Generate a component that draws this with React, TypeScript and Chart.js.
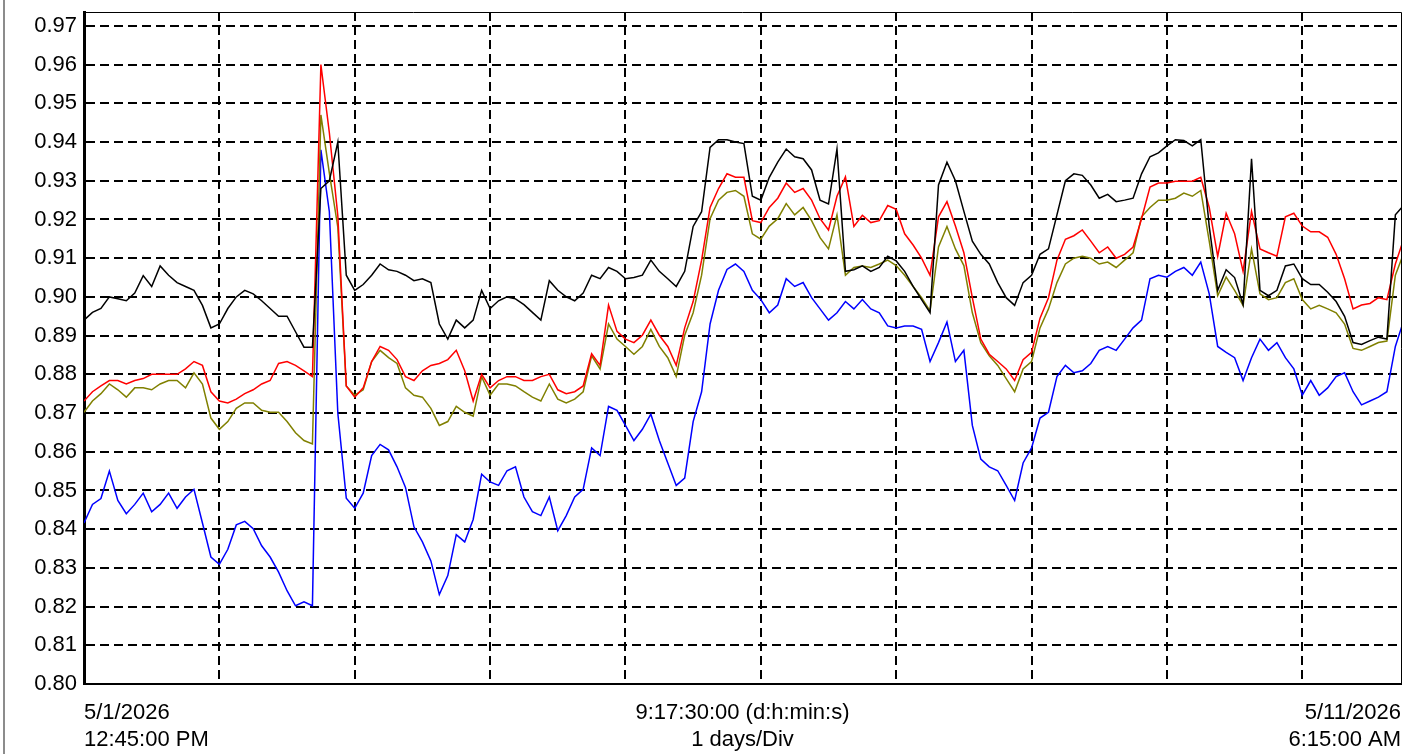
import React, { useEffect, useRef } from 'react';
import { Chart, registerables } from 'chart.js';

Chart.register(...registerables);

// Time axis: hours since 5/1/2026 12:45:00 PM, samples every 1.5 h
const STEP_HOURS = 1.5;
const X_MAX_HOURS = 233.5; // 9:17:30:00
const X_MID_HOURS = X_MAX_HOURS / 2;
const DAY_GRID_HOURS = [24, 48, 72, 96, 120, 144, 168, 192, 216];

const START_LABEL = ['5/1/2026', '12:45:00 PM'];
const MID_LABEL = ['9:17:30:00 (d:h:min:s)', '1 days/Div'];
const END_LABEL = ['5/11/2026', '6:15:00 AM'];

const Y_TICKS = [0.8, 0.81, 0.82, 0.83, 0.84, 0.85, 0.86, 0.87, 0.88, 0.89, 0.9, 0.91, 0.92, 0.93, 0.94, 0.95, 0.96, 0.97];

const BLACK = [
  0.894, 0.896, 0.897, 0.9, 0.8995, 0.899, 0.901, 0.9055, 0.9027, 0.908,
  0.9056, 0.9037, 0.9027, 0.9017, 0.8978, 0.892, 0.893, 0.897, 0.9, 0.9017,
  0.9008, 0.899, 0.897, 0.895, 0.895, 0.891, 0.887, 0.887, 0.928, 0.93,
  0.94, 0.9056, 0.9017, 0.9032, 0.9056, 0.9085, 0.907, 0.9066, 0.9056, 0.9042,
  0.9047, 0.9037, 0.893, 0.8891, 0.894, 0.892, 0.894, 0.9017, 0.897, 0.899,
  0.9, 0.8995, 0.898, 0.896, 0.894, 0.9042, 0.9017, 0.9, 0.899, 0.901,
  0.9056, 0.9047, 0.9076, 0.9066, 0.9047, 0.905, 0.9056, 0.9095, 0.9066, 0.9047,
  0.9027, 0.9066, 0.9182, 0.922, 0.9386, 0.9406, 0.9406, 0.94, 0.9396, 0.926,
  0.925, 0.9309, 0.9348, 0.9382, 0.9362, 0.9357, 0.9328, 0.925, 0.924, 0.9382,
  0.9066, 0.907, 0.908, 0.9066, 0.9076, 0.9105, 0.9093, 0.9066, 0.9027, 0.8993,
  0.8959, 0.9289, 0.9348, 0.93, 0.9221, 0.9144, 0.911, 0.9085, 0.9037, 0.8998,
  0.8978, 0.9037, 0.9056, 0.911, 0.9124, 0.9212, 0.93, 0.9318, 0.9314, 0.9289,
  0.9255, 0.9265, 0.9246, 0.925, 0.9255, 0.9318, 0.9362, 0.9372, 0.939, 0.9406,
  0.9404, 0.939, 0.9406, 0.9182, 0.9017, 0.907, 0.905, 0.898, 0.9357, 0.9017,
  0.9003, 0.9017, 0.908, 0.9085, 0.9047, 0.9032, 0.9032, 0.9012, 0.8988, 0.895,
  0.8882, 0.8877, 0.8887, 0.8896, 0.8891, 0.9212, 0.9237,
];

const RED = [
  0.8731, 0.8755, 0.877, 0.8784, 0.8784, 0.8775, 0.8784, 0.8789, 0.88, 0.88,
  0.88, 0.88, 0.8814, 0.8833, 0.8823, 0.8755, 0.8731, 0.8726, 0.8736, 0.875,
  0.876, 0.8775, 0.8784, 0.8828, 0.8833, 0.8823, 0.8809, 0.8794, 0.96, 0.9424,
  0.921, 0.877, 0.8741, 0.8765, 0.8833, 0.8872, 0.8862, 0.8838, 0.8794, 0.8784,
  0.8809, 0.8823, 0.8828, 0.8838, 0.8862, 0.8809, 0.8731, 0.88, 0.8765, 0.8784,
  0.8794, 0.8794, 0.8784, 0.8784, 0.8794, 0.88, 0.876, 0.875, 0.8755, 0.877,
  0.8853, 0.8823, 0.8979, 0.8911, 0.8891, 0.8882, 0.8901, 0.894, 0.8901, 0.8872,
  0.8823, 0.892, 0.8988, 0.9095, 0.9231, 0.928, 0.9318, 0.9309, 0.9309, 0.9197,
  0.9192, 0.9231, 0.9255, 0.9294, 0.927, 0.928, 0.925, 0.9202, 0.9173, 0.926,
  0.931, 0.9182, 0.9211, 0.9192, 0.9197, 0.9236, 0.9226, 0.9163, 0.9134, 0.91,
  0.9056, 0.9207, 0.9246, 0.9183, 0.9114, 0.8998, 0.8891, 0.8852, 0.8833, 0.8814,
  0.8784, 0.8838, 0.8857, 0.8945, 0.8998, 0.9095, 0.9149, 0.9158, 0.9173, 0.9144,
  0.9114, 0.9129, 0.91, 0.911, 0.9129, 0.9202, 0.9284, 0.9294, 0.9294, 0.9299,
  0.9299, 0.9299, 0.9309, 0.9231, 0.9105, 0.9216, 0.9163, 0.9066, 0.9221, 0.9124,
  0.9114, 0.9105, 0.9207, 0.9216, 0.9183, 0.9168, 0.9168, 0.9154, 0.911, 0.9047,
  0.8969, 0.8979, 0.8983, 0.8998, 0.8993, 0.9085, 0.915,
];

const OLIVE = [
  0.8702, 0.8731, 0.875, 0.8775, 0.876, 0.8741, 0.8765, 0.8765, 0.876, 0.8775,
  0.8784, 0.8784, 0.8765, 0.8804, 0.8775, 0.8687, 0.8658, 0.8678, 0.8712, 0.8726,
  0.8726, 0.8707, 0.8702, 0.8702, 0.8678, 0.8649, 0.8629, 0.862, 0.947, 0.932,
  0.918, 0.877, 0.8746, 0.876, 0.8833, 0.8862, 0.8843, 0.8828, 0.8765, 0.8746,
  0.8741, 0.8712, 0.8668, 0.8678, 0.8717, 0.8702, 0.8692, 0.8794, 0.8746, 0.8775,
  0.8775, 0.877, 0.8755, 0.8741, 0.8731, 0.8775, 0.8736, 0.8726, 0.8736, 0.8755,
  0.8848, 0.8814, 0.893, 0.8891, 0.8872, 0.8852, 0.8872, 0.8916, 0.8872, 0.8843,
  0.8794, 0.8901, 0.8959, 0.9056, 0.9202, 0.925, 0.927, 0.9275, 0.926, 0.9163,
  0.9149, 0.9183, 0.9202, 0.9241, 0.9212, 0.9231, 0.9197, 0.9153, 0.9124, 0.9212,
  0.9056, 0.9076, 0.908, 0.9076, 0.9085, 0.9095, 0.9081, 0.9056, 0.9027, 0.8998,
  0.8964, 0.9129, 0.9182, 0.9124, 0.9081, 0.8959, 0.8882, 0.8848, 0.8823, 0.8789,
  0.8755, 0.8814, 0.8833, 0.892, 0.8969, 0.9037, 0.9085, 0.91, 0.9105, 0.91,
  0.9085, 0.909, 0.9076, 0.9095, 0.9114, 0.9207, 0.9231, 0.925, 0.925, 0.9255,
  0.9268, 0.926, 0.9275, 0.9144, 0.9003, 0.9051, 0.9017, 0.8978, 0.9124, 0.9008,
  0.8993, 0.8998, 0.9037, 0.9047, 0.8993, 0.8969, 0.8978, 0.8969, 0.8959, 0.893,
  0.8867, 0.8862, 0.8872, 0.8882, 0.8886, 0.9056, 0.9114,
];

const BLUE = [
  0.8416, 0.8464, 0.8479, 0.855, 0.8474, 0.844, 0.8464, 0.8493, 0.8445, 0.8464,
  0.8493, 0.8454, 0.8483, 0.8503, 0.8416, 0.8328, 0.8309, 0.8348, 0.8411, 0.842,
  0.8401, 0.8357, 0.8328, 0.8289, 0.8241, 0.8202, 0.8212, 0.8202, 0.938, 0.922,
  0.87, 0.848, 0.8454, 0.8493, 0.859, 0.8619, 0.8605, 0.8561, 0.8508, 0.8406,
  0.8367, 0.8318, 0.8231, 0.828, 0.8386, 0.8367, 0.8425, 0.8542, 0.8522, 0.8513,
  0.8551, 0.8561, 0.8483, 0.8445, 0.8435, 0.8483, 0.8396, 0.8435, 0.8483, 0.8503,
  0.861, 0.859, 0.8717, 0.8707, 0.8668, 0.8629, 0.8658, 0.8697, 0.8629, 0.8571,
  0.8513, 0.8532, 0.8678, 0.8755, 0.893, 0.9017, 0.9071, 0.9085, 0.9066, 0.9017,
  0.8993, 0.8959, 0.8979, 0.9047, 0.9027, 0.9037, 0.8998, 0.8969, 0.894, 0.8959,
  0.8988, 0.8969, 0.8993, 0.8969, 0.8959, 0.8925, 0.892, 0.8925, 0.8925, 0.8916,
  0.8833, 0.8882, 0.8935, 0.8833, 0.8862, 0.8668, 0.8581, 0.8561, 0.8551, 0.8513,
  0.8474, 0.8571, 0.861, 0.8687, 0.8702, 0.8794, 0.8823, 0.8804, 0.8809, 0.8828,
  0.8862, 0.8872, 0.8862, 0.8891, 0.892, 0.894, 0.9047, 0.9056, 0.9051, 0.9066,
  0.9076, 0.9056, 0.909, 0.9008, 0.8872, 0.8857, 0.8843, 0.8784, 0.8843, 0.8891,
  0.8862, 0.8882, 0.8843, 0.8814, 0.8746, 0.8784, 0.8746, 0.8765, 0.8794, 0.8804,
  0.8755, 0.8721, 0.8731, 0.8741, 0.8755, 0.8872, 0.894,
];

const FONT = '"Liberation Sans", Arial, Helvetica, sans-serif';

const framePlugin = {
  id: 'frame',
  afterDraw(chart: any) {
    const { ctx, chartArea } = chart;
    ctx.save();
    ctx.strokeStyle = '#000';
    ctx.lineWidth = 1;
    ctx.beginPath();
    ctx.moveTo(chartArea.left, chartArea.top + 0.5);
    ctx.lineTo(chartArea.right + 0.5, chartArea.top + 0.5);
    ctx.lineTo(chartArea.right + 0.5, chartArea.bottom);
    ctx.stroke();
    ctx.restore();
  },
};

export default function App() {
  const ref = useRef<HTMLCanvasElement>(null);

  useEffect(() => {
    if (!ref.current) return;
    const toPts = (arr: number[]) => arr.map((v, i) => ({ x: i * STEP_HOURS, y: v }));
    const xTicks = [0, ...DAY_GRID_HOURS.slice(0, 4), X_MID_HOURS, ...DAY_GRID_HOURS.slice(4), X_MAX_HOURS];
    const line = (data: number[], color: string) => ({
      data: toPts(data),
      borderColor: color,
      borderWidth: 1.5,
      pointRadius: 0,
      tension: 0,
      fill: false,
    });

    const chart = new Chart(ref.current, {
      type: 'line',
      data: {
        datasets: [
          { label: 'Black', ...line(BLACK, '#000000') },
          { label: 'Red', ...line(RED, '#ff0000') },
          { label: 'Olive', ...line(OLIVE, '#808000') },
          { label: 'Blue', ...line(BLUE, '#0000ff') },
        ] as any,
      },
      options: {
        responsive: false,
        animation: false,
        events: [],
        layout: { padding: { left: 0, top: 12, right: 13, bottom: 0 } },
        plugins: {
          legend: { display: false },
          tooltip: { enabled: false },
        },
        scales: {
          x: {
            type: 'linear',
            min: 0,
            max: X_MAX_HOURS,
            afterBuildTicks: (s: any) => {
              s.ticks = xTicks.map((v) => ({ value: v }));
            },
            afterFit: (s: any) => {
              s.height = 70;
              s.paddingLeft = 0;
              s.paddingRight = 0;
              s.paddingTop = 0;
              s.paddingBottom = 0;
            },
            grid: {
              drawTicks: false,
              lineWidth: 2,
              color: (c: any) =>
                c.tick && DAY_GRID_HOURS.includes(c.tick.value) ? '#000' : 'rgba(0,0,0,0)',
            },
            border: { display: true, color: '#000', width: 2, dash: [9, 5] },
            ticks: {
              autoSkip: false,
              maxRotation: 0,
              minRotation: 0,
              align: 'inner',
              padding: 15,
              color: '#000',
              font: { family: FONT, size: 22, lineHeight: 1.23 },
              callback: (v: any) => {
                if (v === 0) return START_LABEL;
                if (v === X_MID_HOURS) return MID_LABEL;
                if (v === X_MAX_HOURS) return END_LABEL;
                return '';
              },
            },
          } as any,
          y: {
            type: 'linear',
            min: 0.8,
            max: 0.9736,
            afterBuildTicks: (s: any) => {
              s.ticks = Y_TICKS.map((v) => ({ value: v }));
            },
            afterFit: (s: any) => {
              s.width = 84;
              s.paddingLeft = 0;
              s.paddingRight = 0;
              s.paddingTop = 0;
              s.paddingBottom = 0;
            },
            grid: { drawTicks: false, lineWidth: 2, color: '#000' },
            border: { display: true, color: '#000', width: 3, dash: [9, 5] },
            ticks: {
              padding: 7,
              color: '#000',
              font: { family: FONT, size: 22 },
              callback: (v: any) => Number(v).toFixed(2),
            },
          } as any,
        },
      },
      plugins: [framePlugin],
    });
    return () => chart.destroy();
  }, []);

  return (
    <div style={{ position: 'fixed', left: 0, top: 0, width: 1414, height: 754, background: '#fff' }}>
      <canvas ref={ref} width={1414} height={754} style={{ display: 'block' }} />
      <div style={{ position: 'absolute', left: 3, top: 0, width: 2, height: 754, background: '#8c8c8c' }} />
    </div>
  );
}
